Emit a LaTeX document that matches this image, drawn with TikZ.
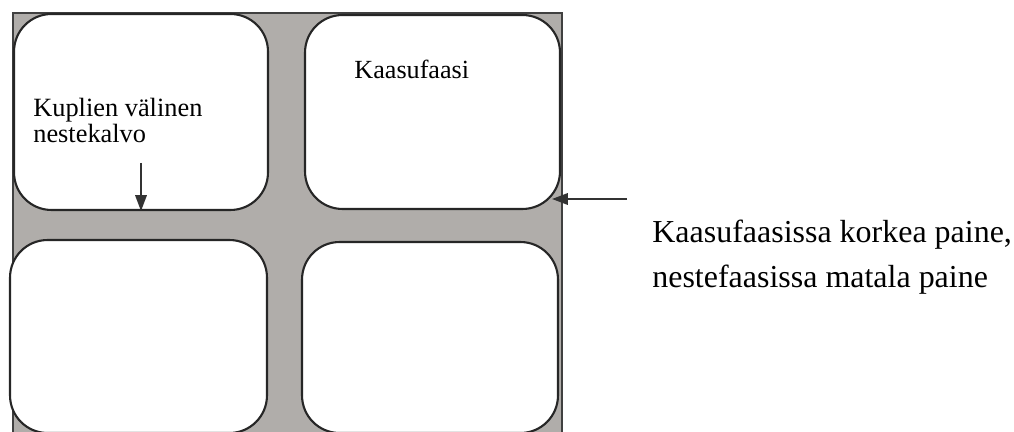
\documentclass[tikz,border=0pt]{standalone}
\usepackage{fontspec}
\setmainfont{Liberation Serif}
\usetikzlibrary{arrows.meta,positioning}
\definecolor{kalvoharmaa}{RGB}{176,173,170}
\newcommand{\tiivis}{\lineskiplimit=-100pt\relax}
\tikzset{
  kupla/.style={draw=black!85,line width=1.2pt,fill=white,rounded corners=0.75cm,inner sep=0pt},
  kalvo/.style={black!75,line width=0.8pt},
  nuoli/.style={-{Triangle[length=9pt,width=6.5pt]},black!80,line width=1.1pt},
  teksti/.style={inner sep=0pt,align=left}
}
\begin{document}
\begin{tikzpicture}[x=0.02cm,y=-0.02cm]
\useasboundingbox (0,0) rectangle (1014,432);
% nestekalvo kuplien valissa
\fill[kalvoharmaa] (13,13) rectangle (562,432);
\draw[kalvo] (13,432) -- (13,13) -- (562,13) -- (562,432);
% kuplat (kaasufaasi)
\node[kupla,minimum width=5.08cm,minimum height=3.92cm] (kupla1) at (141,112) {};
\node[kupla,minimum width=5.10cm,minimum height=3.88cm] (kupla2) at (432.5,112) {};
\node[kupla,minimum width=5.14cm,minimum height=3.86cm] (kupla3) at (138.5,336.5) {};
\node[kupla,minimum width=5.12cm,minimum height=3.82cm] (kupla4) at (430,337.5) {};
% tekstit (base = viimeisen rivin perusviiva)
\node[teksti,anchor=base west,font=\fontsize{15}{14.8}\selectfont\tiivis] (valinen) at (33,143) {Kuplien välinen\\nestekalvo};
\node[teksti,anchor=base west,font=\fontsize{14.9}{18}\selectfont] (kaasu) at (354,79) {Kaasufaasi};
\node[teksti,anchor=base west,font=\fontsize{18.2}{25.5}\selectfont\tiivis] (paine) at (652,287) {Kaasufaasissa korkea paine,\\nestefaasissa matala paine};
% nuolet
\coordinate (k1) at (141,163);
\draw[nuoli] (k1) -- (kupla1.south);
\coordinate (p1) at (627,199);
\coordinate (p2) at (552,199);
\draw[nuoli] (p1) -- (p2);
\end{tikzpicture}
\end{document}
